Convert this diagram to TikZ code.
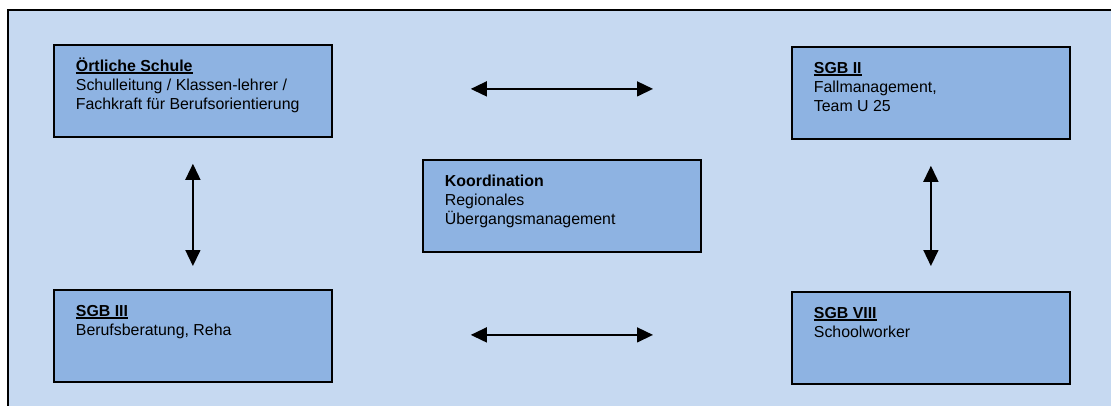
\documentclass[tikz,border=0pt]{standalone}
\usepackage{fontspec}
\setmainfont{Liberation Sans}
\usetikzlibrary{arrows.meta}
\definecolor{bgblue}{HTML}{C6D9F1}
\definecolor{boxblue}{HTML}{8EB3E2}
\newcommand\myul[1]{\setbox0\hbox{#1}\rlap{\rule[-2.4pt]{\wd0}{1.5pt}}\box0}
\newcommand\boxtext[1]{\parbox[c][92pt][t]{234pt}{\rule{0pt}{26.5pt}#1}}
\begin{document}
\begin{tikzpicture}[x=1pt,y=-1pt,
  every node/.style={font=\fontsize{15.9pt}{19pt}\selectfont, text=black},
  unit/.style={draw=black, line width=1.8pt, fill=boxblue, minimum width=278pt, minimum height=92pt, inner sep=0pt, anchor=north west},
  link/.style={line width=1.5pt, {Triangle[length=16pt,width=15pt]}-{Triangle[length=16pt,width=15pt]}}]
\useasboundingbox (0,0) rectangle (1111,405);
\draw[line width=2.2pt, fill=bgblue] (8,10) rectangle (1140,440);
\node[unit] (tl) at (53,44) {\boxtext{\textbf{\myul{Örtliche Schule}}\\Schulleitung / Klassen-lehrer /\\Fachkraft für Berufsorientierung}};
\node[unit] (tr) at (791,46) {\boxtext{\textbf{\myul{SGB II}}\\Fallmanagement,\\Team U 25}};
\node[unit] (ko) at (422,159) {\boxtext{\textbf{Koordination}\\Regionales\\Übergangsmanagement}};
\node[unit] (bl) at (53,289) {\boxtext{\textbf{\myul{SGB III}}\\Berufsberatung, Reha}};
\node[unit] (br) at (791,291) {\boxtext{\textbf{\myul{SGB VIII}}\\Schoolworker}};
\draw[link, shorten <=138pt, shorten >=138pt] ([yshift=2pt]tl.east) -- ([yshift=2pt]tl.east -| tr.west);
\draw[link, shorten <=138pt, shorten >=138pt] ([yshift=1pt]bl.east) -- ([yshift=1pt]bl.east -| br.west);
\draw[link, shorten <=26pt, shorten >=23pt] (tl.south) -- (bl.north);
\draw[link, shorten <=26pt, shorten >=25pt] (tr.south) -- (br.north);
\end{tikzpicture}
\end{document}
